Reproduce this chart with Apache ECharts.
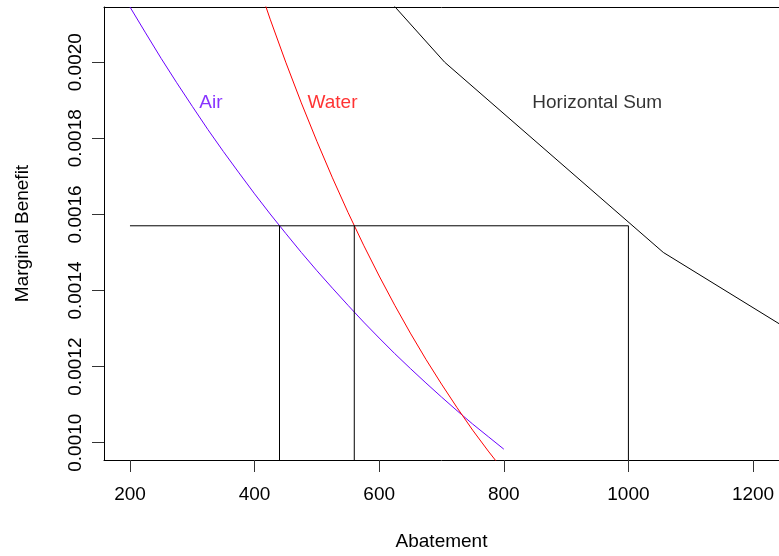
<!DOCTYPE html>
<html>
<head>
<meta charset="utf-8">
<script src="https://cdn.jsdelivr.net/npm/echarts@6/dist/echarts.min.js"></script>
<style>
  html, body { margin: 0; padding: 0; background: #fff; }
  #chart { width: 779px; height: 556px; }
</style>
</head>
<body>
<div id="chart"></div>
<script>
// abatement quantities and marginal benefit
const airQ = [200, 225, 250, 275, 300, 325, 350, 375, 400, 425, 450, 475, 500, 525, 550, 575, 600, 625, 650, 675, 700, 725, 750, 775, 800]
const airMB = [0.002145, 0.002077, 0.002010, 0.001946, 0.001884, 0.001823, 0.001765, 0.001709, 0.001654, 0.001601, 0.001550, 0.001500, 0.001452, 0.001406, 0.001361, 0.001317, 0.001275, 0.001234, 0.001195, 0.001157, 0.001120, 0.001084, 0.001049, 0.001016, 0.000983]

const waterQ = [400, 425, 450, 475, 500, 525, 550, 575, 600, 625, 650, 675, 700, 725, 750, 775, 800]
const waterMB = [0.002233, 0.002113, 0.002000, 0.001893, 0.001792, 0.001696, 0.001605, 0.001519, 0.001438, 0.001361, 0.001288, 0.001219, 0.001154, 0.001092, 0.001033, 0.000978, 0.000926]

// horizontal sum (kinked line)
const sumQ = [431, 705, 1056, 1552]
const sumMB = [0.0025, 0.0020, 0.0015, 0.0010]

// guide lines: common marginal benefit and the quantities it gives
const guideMB = 0.00157
const guideStartQ = 200
const guideQ = [440, 560, 1000]

// curve labels
const labelNames = ['Air', 'Water', 'Horizontal Sum']
const labelQ = [330, 525, 950]
const labelMB = [0.0019, 0.0019, 0.0019]
const labelColors = ['#6a00ff', '#ff0000', '#000000']

// axis ticks
const xTicks = [200, 400, 600, 800, 1000, 1200]
const yTicks = [0.0010, 0.0012, 0.0014, 0.0016, 0.0018, 0.0020]

const X_MIN = 158.3, X_MAX = 1241.7
const Y_MIN = 0.0009545, Y_MAX = 0.002145

const FONT = 'Liberation Sans, Arial, sans-serif'
const zip = (xs, ys) => xs.map((x, i) => [x, ys[i]])

const chart = echarts.init(document.getElementById('chart'), null, { renderer: 'canvas' })

const lineSeries = (name, data, color) => ({
  name,
  type: 'line',
  data,
  symbol: 'none',
  clip: true,
  lineStyle: { color, width: 1 },
  silent: true,
  animation: false
})

const guideSeries = [
  lineSeries('guide-h', [[guideStartQ, guideMB], [guideQ[guideQ.length - 1], guideMB]], '#000'),
  ...guideQ.map((q, i) => lineSeries('guide-v' + i, [[q, guideMB], [q, Y_MIN]], '#000'))
]

chart.setOption({
  animation: false,
  backgroundColor: '#fff',
  grid: { left: 104, top: 7, width: 676, height: 453, containLabel: false },
  xAxis: [{
    type: 'value',
    min: X_MIN,
    max: X_MAX,
    name: 'Abatement',
    nameLocation: 'middle',
    nameGap: 72,
    nameTextStyle: { fontFamily: FONT, fontSize: 19, color: '#000' },
    axisLine: { show: true, lineStyle: { color: '#000', width: 1 } },
    axisTick: { show: true, length: 12, customValues: xTicks, lineStyle: { color: '#333' } },
    axisLabel: {
      customValues: xTicks,
      margin: 25,
      formatter: v => String(v),
      fontFamily: FONT, fontSize: 19, color: '#000'
    },
    splitLine: { show: false }
  }, {
    // top edge of the plot box
    type: 'value',
    position: 'top',
    min: X_MIN,
    max: X_MAX,
    axisLine: { show: true, lineStyle: { color: '#000', width: 1 } },
    axisTick: { show: false },
    axisLabel: { show: false },
    splitLine: { show: false }
  }],
  yAxis: {
    type: 'value',
    min: Y_MIN,
    max: Y_MAX,
    name: 'Marginal Benefit',
    nameLocation: 'middle',
    nameGap: 72,
    nameRotate: 90,
    nameTextStyle: { fontFamily: FONT, fontSize: 19, color: '#000' },
    axisLine: { show: true, lineStyle: { color: '#000', width: 1 } },
    axisTick: { show: true, length: 12, customValues: yTicks, lineStyle: { color: '#333' } },
    axisLabel: {
      customValues: yTicks,
      rotate: 90,
      margin: 19,
      formatter: v => v.toFixed(4),
      fontFamily: FONT, fontSize: 19, color: '#000'
    },
    splitLine: { show: false }
  },
  series: [
    lineSeries('Air', zip(airQ, airMB), '#6a00ff'),
    lineSeries('Water', zip(waterQ, waterMB), '#ff0000'),
    lineSeries('Horizontal Sum', zip(sumQ, sumMB), '#000000'),
    ...guideSeries,
    {
      name: 'labels',
      type: 'scatter',
      symbolSize: 0,
      silent: true,
      data: labelNames.map((n, i) => ({
        value: [labelQ[i], labelMB[i]],
        label: {
          show: true,
          position: 'inside',
          offset: [0, 3],
          formatter: n,
          fontFamily: FONT,
          fontSize: 19,
          color: labelColors[i]
        }
      }))
    }
  ]
})
</script>
</body>
</html>
